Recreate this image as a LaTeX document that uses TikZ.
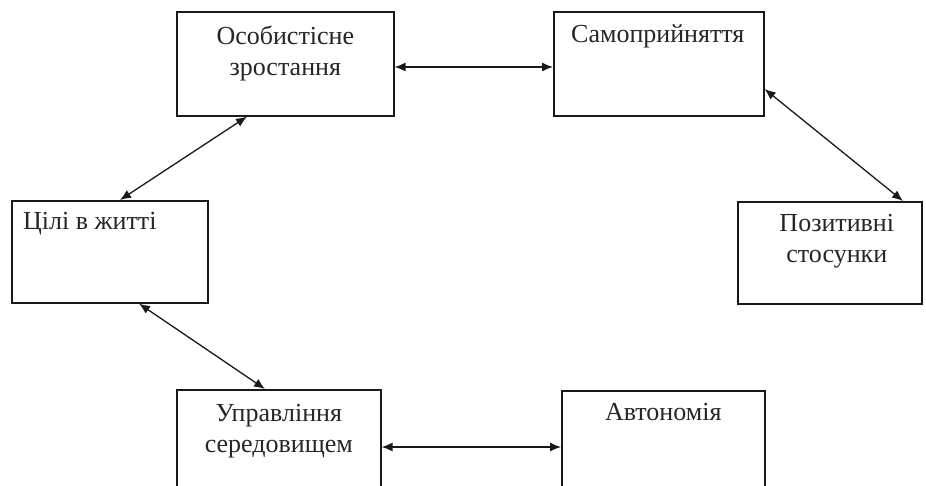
\documentclass[tikz,border=0pt]{standalone}
\usepackage{fontspec}
\setmainfont{Liberation Serif}
\usetikzlibrary{arrows.meta,calc}
\begin{document}
\begin{tikzpicture}[x=1pt,y=-1pt,
  box/.style={draw=black!90,line width=1.6pt,rectangle,inner sep=0pt,anchor=north west},
  txt/.style={font=\fontsize{26}{31}\selectfont,align=center,inner sep=0pt,anchor=base,text=black!85},
  conn/.style={line width=1.3pt,draw=black!90,{Latex[length=11pt,width=9pt]}-{Latex[length=11pt,width=9pt]}}]
\useasboundingbox (0,0) rectangle (926,486);
\clip (0,0) rectangle (926,486);
\fill[white] (0,0) rectangle (926,486);
% boxes
\node[box,minimum width=217pt,minimum height=104pt] (b1) at (176,11) {};
\node[box,minimum width=210pt,minimum height=104pt] (b2) at (553,11) {};
\node[box,minimum width=196pt,minimum height=102pt] (b3) at (11,200) {};
\node[box,minimum width=184pt,minimum height=102pt] (b4) at (737,201) {};
\node[box,minimum width=204pt,minimum height=110pt] (b5) at (176,389) {};
\node[box,minimum width=203pt,minimum height=110pt] (b6) at (561,390) {};
% texts (base anchor = baseline of last line)
\node[txt] (t1) at ([yshift=-65pt]b1.north) {Особистісне\\зростання};
\node[txt] (t2) at ([xshift=-1pt,yshift=-32pt]b2.north) {Самоприйняття};
\node[txt,anchor=base west] (t3) at ([xshift=12pt,yshift=-30pt]b3.north west) {Цілі в житті};
\node[txt] (t4) at ([xshift=7pt,yshift=-62pt]b4.north) {Позитивні\\стосунки};
\node[txt] (t5) at ([yshift=-63pt]b5.north) {Управління\\середовищем};
\node[txt] (t6) at ([yshift=-30pt]b6.north) {Автономія};
% connectors
\draw[conn] ([yshift=-56pt]b1.north east) -- ([yshift=-56pt]b2.north west);
\draw[conn] ([yshift=-78pt]b2.north east) -- ([xshift=166pt]b4.north west);
\draw[conn] ([xshift=71pt]b1.south west) -- ([xshift=109pt]b3.north west);
\draw[conn] ([xshift=128pt]b3.south west) -- ([xshift=89pt]b5.north west);
\draw[conn] ([yshift=-58pt]b5.north east) -- ([yshift=-57pt]b6.north west);
\end{tikzpicture}
\end{document}
